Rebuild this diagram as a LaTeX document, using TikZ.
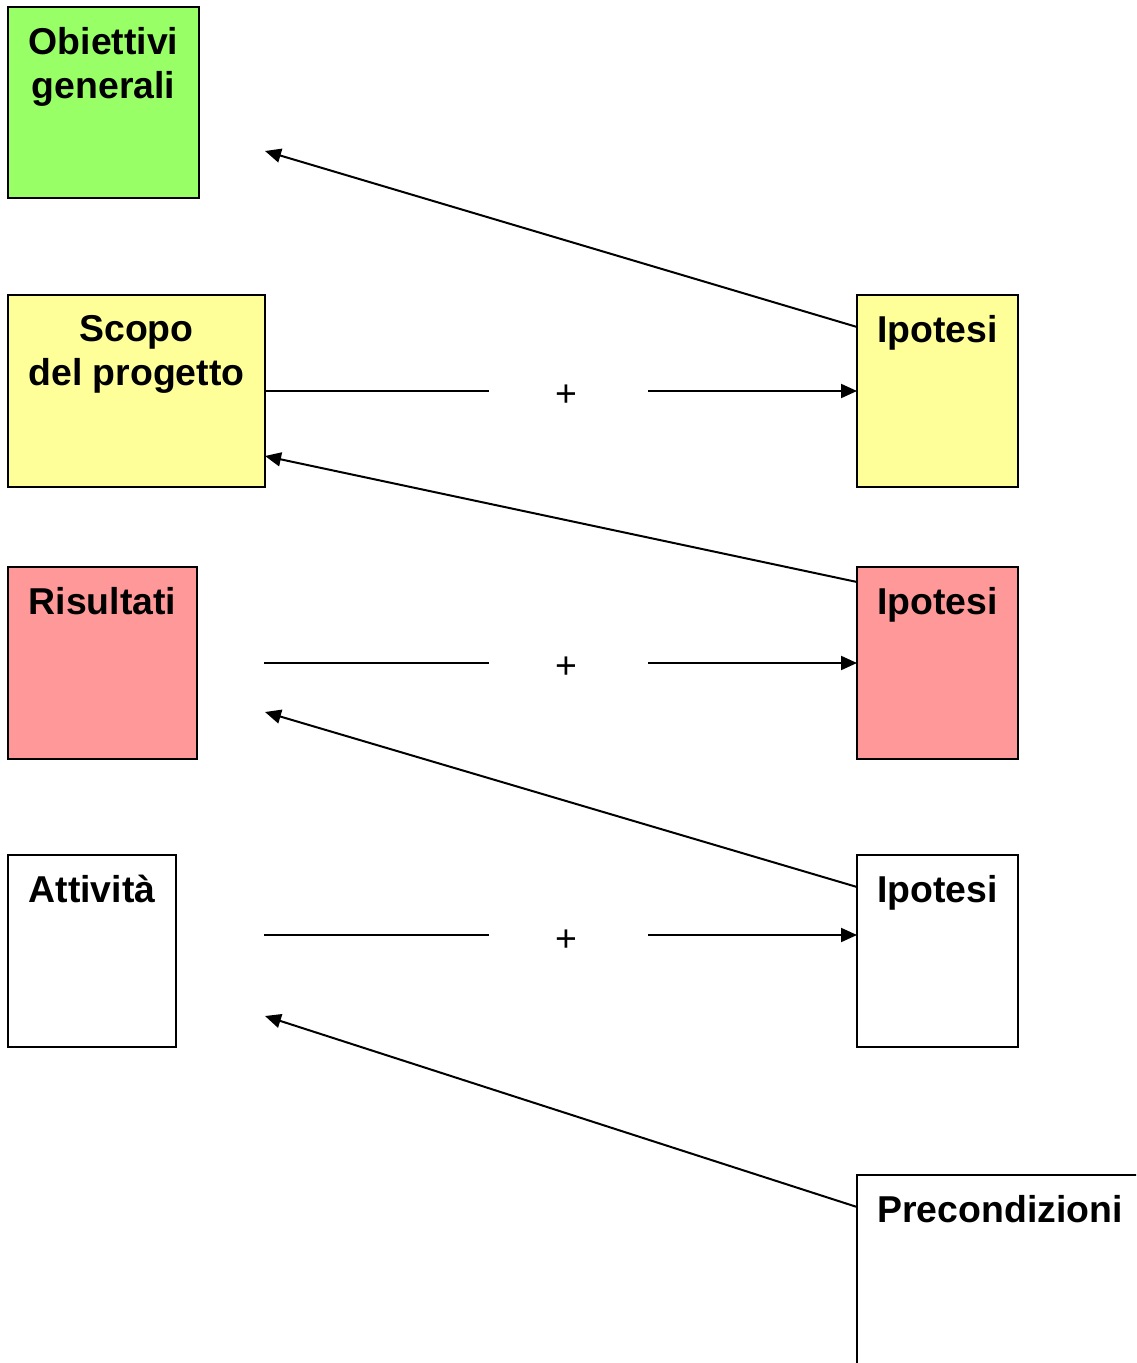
\documentclass[tikz,border=0pt]{standalone}
\usepackage{fontspec}
\setmainfont{Liberation Sans}
\usetikzlibrary{arrows.meta}
\definecolor{obgreen}{HTML}{99FF66}
\definecolor{scyellow}{HTML}{FFFF99}
\definecolor{rspink}{HTML}{FF9999}
\begin{document}
\begin{tikzpicture}[
        x=0.5pt, y=-0.5pt,
        box/.style={rectangle, draw, line width=1pt, anchor=north west, outer sep=0pt, minimum height=96pt},
        title/.style={anchor=north, inner sep=0pt, yshift=-10pt, align=center, font=\fontsize{18.7}{22.2}\selectfont\bfseries},
        link/.style={line width=1pt},
        arr/.style={line width=1pt, -{Triangle[length=8pt, width=7pt]}},
        plus/.style={font=\fontsize{18.7}{22.2}\selectfont}
    ]
        \clip (0,0) rectangle (1136,1363);
        \fill[white] (0,0) rectangle (1136,1363);

        % left column
        \node[box, fill=obgreen, minimum width=95.5pt, minimum height=95.5pt, label={[title]north:Obiettivi\\generali}] (obiettivi) at (8,7) {};
        \node[box, fill=scyellow, minimum width=128.5pt, label={[title]north:Scopo\\del progetto}] (scopo) at (8,295) {};
        \node[box, fill=rspink, minimum width=94.5pt, label={[title]north:Risultati}] (risultati) at (8,567) {};
        \node[box, minimum width=84pt, label={[title]north:Attività}] (attivita) at (8,855) {};

        % right column
        \node[box, fill=scyellow, minimum width=80.5pt, label={[title]north:Ipotesi}] (ipotesiA) at (857,295) {};
        \node[box, fill=rspink, minimum width=80.5pt, label={[title]north:Ipotesi}] (ipotesiB) at (857,567) {};
        \node[box, minimum width=80.5pt, label={[title]north:Ipotesi}] (ipotesiC) at (857,855) {};
        \node[box, minimum width=143pt, minimum height=130pt, label={[title]north:Precondizioni}] (precond) at (857,1175) {};

        % free ends
        \coordinate (tipA) at (265,151);
        \coordinate (tipB) at (265,456);
        \coordinate (tipC) at (265,712);
        \coordinate (tipD) at (265,1016);
        \coordinate (startB) at (264,663);
        \coordinate (startC) at (264,935);
        \coordinate (gapA1) at (489,391);
        \coordinate (gapA2) at (648,391);
        \coordinate (gapB1) at (489,663);
        \coordinate (gapB2) at (648,663);
        \coordinate (gapC1) at (489,935);
        \coordinate (gapC2) at (648,935);

        % plus signs
        \node[plus] (plusA) at (566,396) {+};
        \node[plus] (plusB) at (566,668) {+};
        \node[plus] (plusC) at (566,941) {+};

        % horizontal links
        \draw[link] (scopo.east) -- (gapA1);
        \draw[arr] (gapA2) -- (ipotesiA.west);
        \draw[link] (startB) -- (gapB1);
        \draw[arr] (gapB2) -- (ipotesiB.west);
        \draw[link] (startC) -- (gapC1);
        \draw[arr] (gapC2) -- ([yshift=8pt]ipotesiC.west);

        % back arrows
        \draw[arr] ([yshift=-16pt]ipotesiA.north west) -- (tipA);
        \draw[arr] ([yshift=-7.5pt]ipotesiB.north west) -- (tipB);
        \draw[arr] ([yshift=-16pt]ipotesiC.north west) -- (tipC);
        \draw[arr] ([yshift=-16pt]precond.north west) -- (tipD);
    \end{tikzpicture}
\end{document}
